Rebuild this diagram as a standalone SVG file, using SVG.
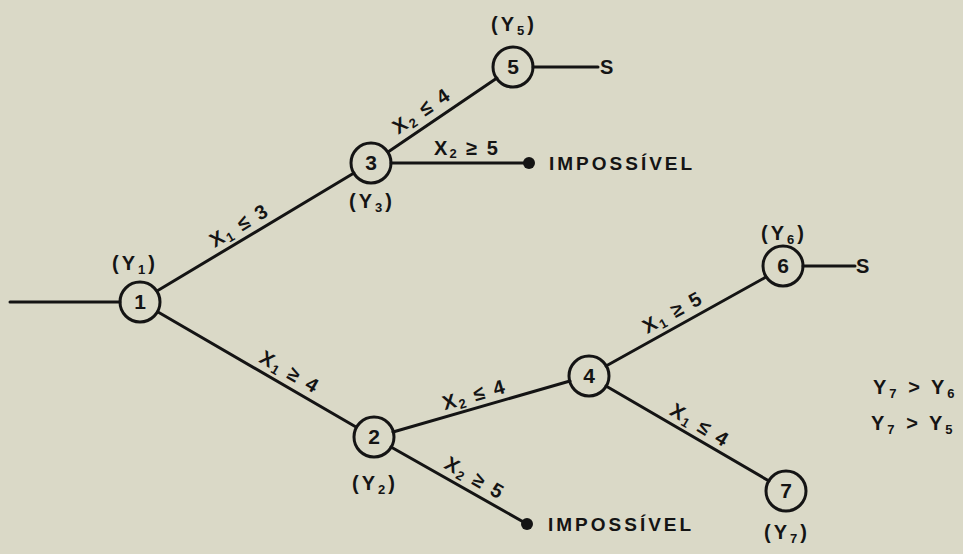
<svg xmlns="http://www.w3.org/2000/svg" width="963" height="554" viewBox="0 0 963 554">
<style>
.bg{fill:#dad9c7}
.ln{stroke:#141414;stroke-width:3;fill:none;stroke-linecap:round}
.nd{fill:none;stroke:#141414;stroke-width:3}
.dot{fill:#141414}
text{font-family:"Liberation Sans","DejaVu Sans",sans-serif;font-weight:bold;fill:#141414}
.num{font-size:21px;text-anchor:middle}
.lb{font-size:20px;text-anchor:middle;letter-spacing:2px}
.yl{font-size:20px;text-anchor:middle;letter-spacing:3px}
.sb{font-size:13px}
.imp{font-size:19px;letter-spacing:3px}
.s{font-size:20px}
.nt{font-size:20px;letter-spacing:3px}
</style>
<rect class="bg" x="0" y="0" width="963" height="554"/>
<g id="connectors">
<line class="ln" x1="10" y1="302" x2="120" y2="302"/>
<line class="ln" x1="157" y1="291" x2="354" y2="173"/>
<line class="ln" x1="158" y1="312" x2="356" y2="427"/>
<line class="ln" x1="388" y1="152" x2="497" y2="78"/>
<line class="ln" x1="391" y1="163" x2="529" y2="163"/>
<line class="ln" x1="533" y1="67" x2="598" y2="67"/>
<line class="ln" x1="393" y1="432" x2="570" y2="381"/>
<line class="ln" x1="391" y1="447" x2="527" y2="524"/>
<line class="ln" x1="606" y1="366" x2="766" y2="277"/>
<line class="ln" x1="606" y1="386" x2="769" y2="481"/>
<line class="ln" x1="803" y1="266" x2="855" y2="266"/>
<circle class="dot" cx="529" cy="163" r="6"/>
<circle class="dot" cx="527" cy="524" r="6"/>
</g>
<g id="n1"><circle class="nd" cx="140" cy="302" r="20"/><text class="num" x="140" y="309">1</text></g>
<g id="n2"><circle class="nd" cx="374" cy="437" r="20"/><text class="num" x="374" y="444">2</text></g>
<g id="n3"><circle class="nd" cx="371" cy="163" r="20"/><text class="num" x="371" y="170">3</text></g>
<g id="n4"><circle class="nd" cx="589" cy="376" r="20"/><text class="num" x="589" y="383">4</text></g>
<g id="n5"><circle class="nd" cx="513" cy="67" r="20"/><text class="num" x="513" y="74">5</text></g>
<g id="n6"><circle class="nd" cx="783" cy="266" r="20"/><text class="num" x="783" y="273">6</text></g>
<g id="n7"><circle class="nd" cx="786" cy="491" r="20"/><text class="num" x="786" y="498">7</text></g>
<g id="yl">
<text class="yl" x="135" y="270">(Y<tspan class="sb" dy="4">1</tspan><tspan dy="-4">)</tspan></text>
<text class="yl" x="372" y="208">(Y<tspan class="sb" dy="4">3</tspan><tspan dy="-4">)</tspan></text>
<text class="yl" x="514" y="31">(Y<tspan class="sb" dy="4">5</tspan><tspan dy="-4">)</tspan></text>
<text class="yl" x="375" y="490">(Y<tspan class="sb" dy="4">2</tspan><tspan dy="-4">)</tspan></text>
<text class="yl" x="784" y="240">(Y<tspan class="sb" dy="4">6</tspan><tspan dy="-4">)</tspan></text>
<text class="yl" x="787" y="539">(Y<tspan class="sb" dy="4">7</tspan><tspan dy="-4">)</tspan></text>
</g>
<g id="edge-labels">
<text class="lb" transform="translate(247,238) rotate(-31)" x="0" y="-8">X<tspan class="sb" dy="3">1</tspan><tspan dy="-3"> ≤ 3</tspan></text>
<text class="lb" transform="translate(283,384) rotate(30)" x="0" y="-7">X<tspan class="sb" dy="3">1</tspan><tspan dy="-3"> ≥ 4</tspan></text>
<text class="lb" transform="translate(430,123) rotate(-34)" x="0" y="-8">X<tspan class="sb" dy="3">2</tspan><tspan dy="-3"> ≤ 4</tspan></text>
<text class="lb" x="467" y="155">X<tspan class="sb" dy="3">2</tspan><tspan dy="-3"> ≥ 5</tspan></text>
<text class="lb" transform="translate(478,407) rotate(-16)" x="0" y="-6">X<tspan class="sb" dy="3">2</tspan><tspan dy="-3"> ≤ 4</tspan></text>
<text class="lb" transform="translate(468,490) rotate(30)" x="0" y="-7">X<tspan class="sb" dy="3">2</tspan><tspan dy="-3"> ≥ 5</tspan></text>
<text class="lb" transform="translate(680,325) rotate(-29)" x="0" y="-8">X<tspan class="sb" dy="3">1</tspan><tspan dy="-3"> ≥ 5</tspan></text>
<text class="lb" transform="translate(693,437) rotate(31)" x="0" y="-7">X<tspan class="sb" dy="3">1</tspan><tspan dy="-3"> ≤ 4</tspan></text>
</g>
<g id="ends">
<text class="imp" x="549" y="170">IMPOSSÍVEL</text>
<text class="imp" x="548" y="531">IMPOSSÍVEL</text>
<text class="s" x="600" y="74">S</text>
<text class="s" x="856" y="273">S</text>
</g>
<g id="notes">
<text class="nt" x="873" y="394">Y<tspan class="sb" dy="4">7</tspan><tspan dy="-4"> &gt; Y</tspan><tspan class="sb" dy="4">6</tspan></text>
<text class="nt" x="871" y="430">Y<tspan class="sb" dy="4">7</tspan><tspan dy="-4"> &gt; Y</tspan><tspan class="sb" dy="4">5</tspan></text>
</g>
</svg>
